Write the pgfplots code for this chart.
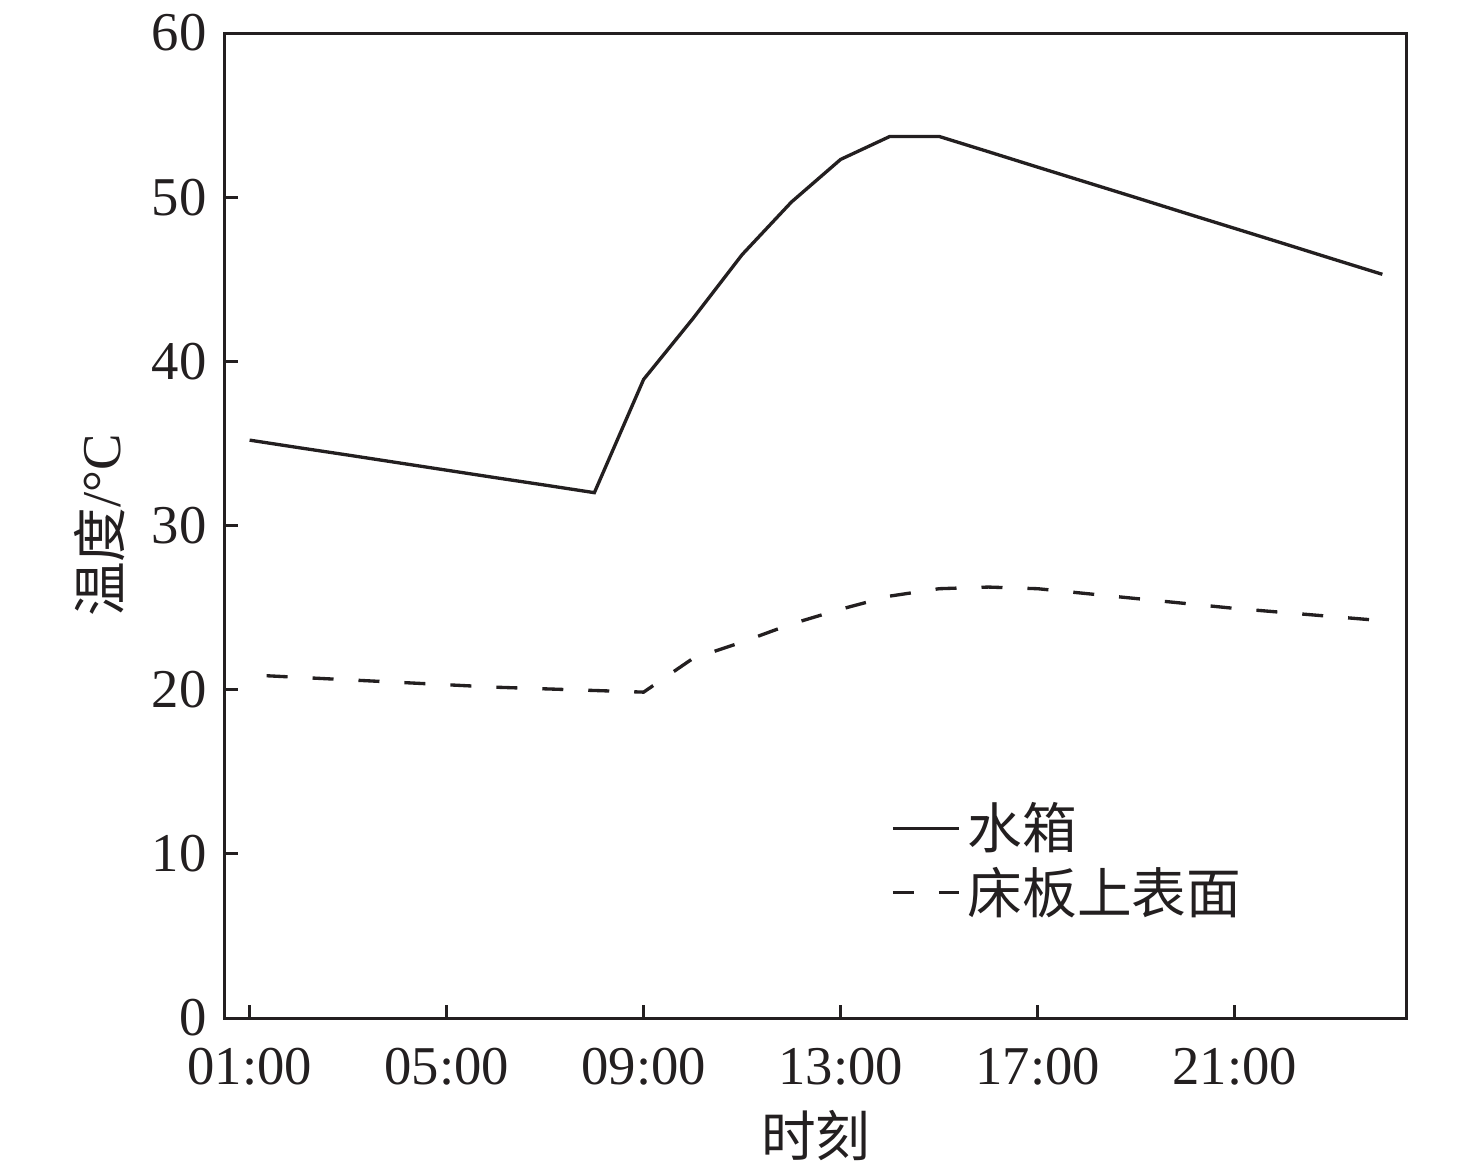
\documentclass[border=0pt]{standalone}
\usepackage{pgfplots}
\pgfplotsset{compat=1.18}
\usepackage{fontspec}
\setmainfont{Liberation Serif}
\newfontfamily\cjk{Noto Sans CJK SC}
\definecolor{ink}{HTML}{231F20}
\newcommand{\fs}{\fontsize{16.4}{19}\selectfont}
\pgfplotstableread{
x y
1 35.2
2 34.74
3 34.29
4 33.83
5 33.37
6 32.91
7 32.46
8 32.0
9 38.9
10 42.6
11 46.5
12 49.7
13 52.3
14 53.7
15 53.7
16 52.77
17 51.83
18 50.90
19 49.97
20 49.03
21 48.10
22 47.17
23 46.23
24 45.3
}\tank
\pgfplotstableread{
x y
1 20.9
2 20.75
3 20.6
4 20.45
5 20.3
6 20.15
7 20.05
8 19.95
9 19.85
10 21.9
11 22.9
12 24.0
13 24.9
14 25.7
15 26.15
16 26.25
17 26.15
18 25.85
19 25.55
20 25.25
21 24.95
22 24.7
23 24.45
24 24.2
}\bed
\begin{document}
\begin{tikzpicture}
\path[use as bounding box] (-67.5pt,-45.9pt) rectangle (375.3pt,305.4pt);
\begin{axis}[
  at={(0,0)}, anchor=south west,
  scale only axis,
  width=354.6pt, height=295.5pt,
  xmin=0.5, xmax=24.5,
  ymin=0, ymax=60,
  xtick={1,5,9,13,17,21},
  xticklabels={01:00,05:00,09:00,13:00,17:00,21:00},
  ytick={0,10,20,30,40,50,60},
  tick pos=left,
  tick align=inside,
  major tick length=4pt,
  axis line style={ink, line width=0.9pt},
  every tick/.style={ink, line width=0.9pt},
  tick label style={font=\fs, text=ink},
  xticklabel style={yshift=-5.5pt},
  yticklabel style={xshift=-2pt},
  /pgf/number format/assume math mode=true,
  xlabel={\cjk 时刻},
  ylabel={{\cjk 温度}/°C},
  every axis x label/.style={at={(axis description cs:0.5,-0.119)}, anchor=center, font=\fs, text=ink},
  every axis y label/.style={at={(axis description cs:-0.1057,0.5)}, rotate=90, anchor=center, font=\fs, text=ink},
  legend style={draw=none, fill=none, font=\fs, text=ink,
    at={(axis description cs:0.563,0.226)}, anchor=north west,
    row sep=0pt, inner sep=0pt,
    nodes={inner sep=2pt}},
  legend cell align=left,
  legend image code/.code={\draw[#1, dash phase=0pt] (0pt,0pt) -- (20pt,0pt);},
]
\addplot[ink, line width=1pt] table[x=x,y=y] {\tank};
\addlegendentry{\cjk 水箱}
\addplot[ink, line width=1pt, dash pattern=on 6.3pt off 7.5pt, dash phase=8.7pt] table[x=x,y=y] {\bed};
\addlegendentry{\cjk 床板上表面}
\end{axis}
\end{tikzpicture}
\end{document}
